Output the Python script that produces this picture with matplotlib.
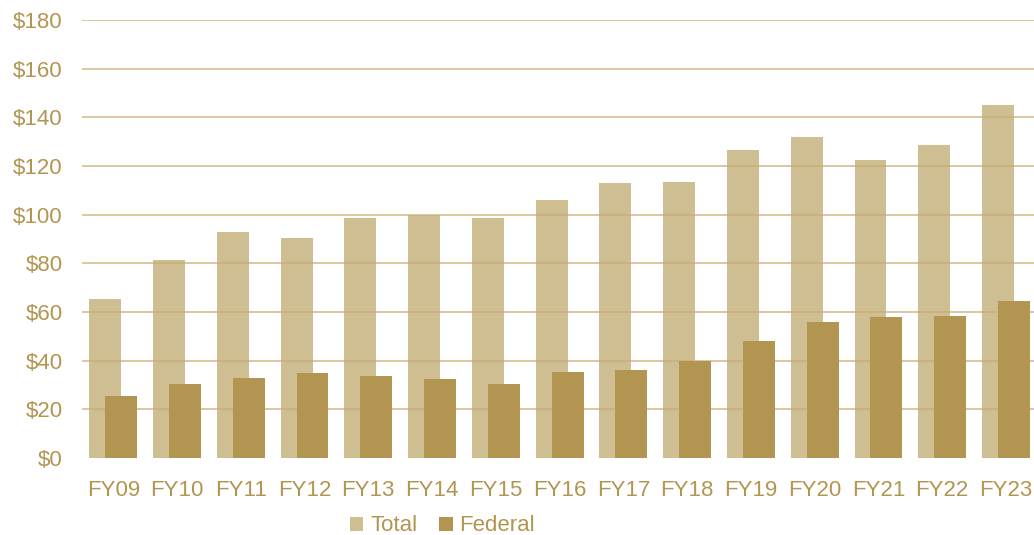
import numpy as np
import matplotlib
matplotlib.use('Agg')
import matplotlib.pyplot as plt
from matplotlib.ticker import FuncFormatter

years = ['FY09', 'FY10', 'FY11', 'FY12', 'FY13', 'FY14', 'FY15', 'FY16',
         'FY17', 'FY18', 'FY19', 'FY20', 'FY21', 'FY22', 'FY23']
total = [65.5, 81.5, 93, 90.5, 98.5, 100, 98.5, 106, 113, 113.5, 126.5, 132, 122.5, 128.5, 145]
federal = [25.5, 30.5, 33, 35, 33.5, 32.5, 30.5, 35.5, 36, 40, 48, 56, 58, 58.5, 64.5]

gold = '#B39552'
light = '#C3AE76'
grid_c = '#D9C89E'

plt.rcParams['font.family'] = ['Liberation Sans', 'DejaVu Sans']

fig = plt.figure(figsize=(10.34, 5.35), dpi=100)
ax = fig.add_axes([0.0793, 0.144, 0.9207, 0.8186])

x = np.arange(len(years))
p1 = ax.bar(x - 0.125, total, width=0.5, color=light, alpha=0.8, zorder=3)
p2 = ax.bar(x + 0.125, federal, width=0.5, color=gold, zorder=4)

ax.set_ylim(0, 180)
ax.set_xlim(-0.49, 14.44)
ax.set_yticks(range(0, 181, 20))
ax.yaxis.set_major_formatter(FuncFormatter(lambda v, p: '$%d' % v))
for yv in range(20, 181, 20):
    ax.axhline(yv, color=grid_c, lw=1.4, zorder=1)

ax.set_xticks(x)
ax.set_xticklabels(years)
ax.tick_params(axis='both', length=0, labelsize=16, labelcolor=gold)
ax.tick_params(axis='y', pad=14)
ax.tick_params(axis='x', pad=16)
for s in ax.spines.values():
    s.set_visible(False)

fig.legend((p1[0], p2[0]), ('Total', 'Federal'), loc='lower center',
           bbox_to_anchor=(0.428, -0.04), ncol=2, frameon=False, fontsize=16,
           handlelength=0.6, handleheight=0.6, handletextpad=0.3, columnspacing=1.0,
           labelcolor=gold)

fig.savefig('out.png', dpi=100, facecolor='white')
